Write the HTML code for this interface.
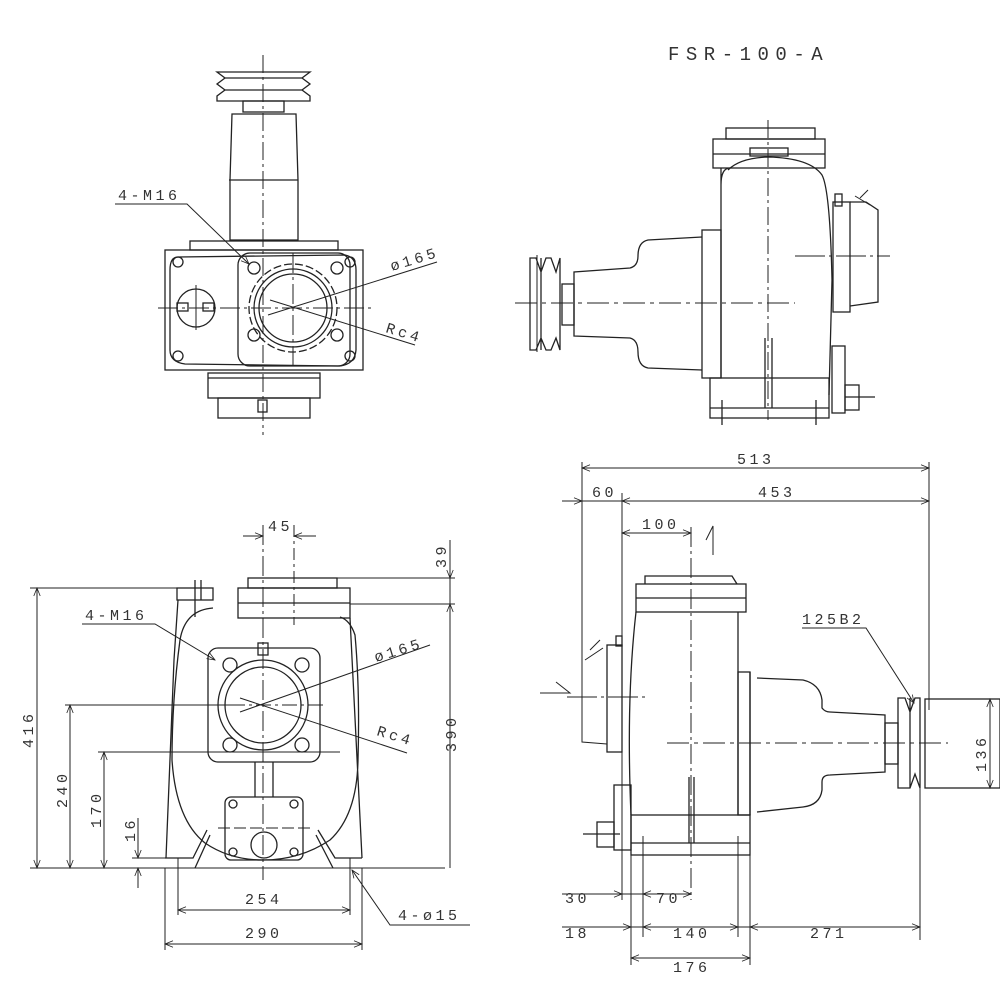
<!DOCTYPE html>
<html><head><meta charset="utf-8"><style>
html,body{margin:0;padding:0;background:#fff;}
svg{display:block}
text{font-family:"Liberation Mono","DejaVu Sans Mono",monospace;fill:#333;font-size:15px;letter-spacing:3.5px}
</style></head><body>
<svg width="1000" height="1000" viewBox="0 0 1000 1000" xmlns="http://www.w3.org/2000/svg">
<defs>
<marker id="a" viewBox="0 0 10 10" refX="10" refY="5" markerWidth="10" markerHeight="8" orient="auto-start-reverse" markerUnits="userSpaceOnUse"><path d="M0,1 L10,5 L0,9" fill="none" stroke="#222" stroke-width="1"/></marker>
</defs>
<g fill="none" stroke="#222" stroke-width="1.3">
<text x="668" y="60" style="font-size:19px;letter-spacing:6.5px" stroke="none">FSR-100-A</text>

<!-- ===== TOP LEFT VIEW ===== -->
<path d="M263,55 V435" stroke-dasharray="18,4,3,4" stroke-width="1"/>
<path d="M217,72 H310 L302,78 L310,84 L302,90 L310,96 V101 H217 V96 L225,90 L217,84 L225,78 L217,72 Z"/>
<path d="M225,78 H302 M225,90 H302"/>
<rect x="243" y="101" width="41" height="11"/>
<path d="M232,114 H296 L298,180 V240 H230 V180 Z M229,180 H298"/>
<rect x="190" y="241" width="148" height="9"/>
<rect x="165" y="250" width="198" height="120"/>
<path d="M178,257 Q170,257 170,270 V350 Q170,362 185,364 L340,366 Q355,364 356,350 V270 Q356,257 345,255 Z"/>
<rect x="238" y="253" width="112" height="113" rx="12"/>
<circle cx="293" cy="308" r="44" stroke-dasharray="8,3"/>
<circle cx="293" cy="308" r="39"/>
<circle cx="293" cy="308" r="34"/>
<circle cx="254" cy="268" r="6"/><circle cx="337" cy="268" r="6"/>
<circle cx="254" cy="335" r="6"/><circle cx="337" cy="335" r="6"/>
<circle cx="178" cy="262" r="5"/><circle cx="350" cy="262" r="5"/>
<circle cx="178" cy="356" r="5"/><circle cx="350" cy="356" r="5"/>
<circle cx="196" cy="308" r="19"/>
<rect x="177" y="303" width="11" height="8"/><rect x="203" y="303" width="11" height="8"/>
<path d="M196,285 V330" stroke-width="1"/>
<path d="M158,308 H375 M293,253 V370" stroke-width="1" stroke-dasharray="20,4,3,4"/>
<rect x="208" y="373" width="112" height="25"/>
<path d="M208,378 H320"/>
<rect x="218" y="398" width="92" height="20"/>
<rect x="258" y="400" width="9" height="12"/>
<text x="118" y="200" stroke="none">4-M16</text>
<path d="M115,204 H187 L249,264" marker-end="url(#a)" stroke-width="1"/>
<path d="M268,315 L437,262" stroke-width="1"/>
<path d="M270,300 L415,345" stroke-width="1"/>
<text x="0" y="0" stroke="none" transform="translate(392,271) rotate(-17)">ø165</text>
<text x="0" y="0" stroke="none" transform="translate(385,332) rotate(17)">Rc4</text>

<!-- ===== TOP RIGHT VIEW ===== -->
<path d="M515,303 H795" stroke-dasharray="22,5,4,5" stroke-width="1"/>
<path d="M768,120 V420" stroke-dasharray="18,4,3,4" stroke-width="1"/>
<rect x="726" y="128" width="89" height="11"/>
<rect x="713" y="139" width="112" height="29"/>
<path d="M713,154 H825"/>
<rect x="750" y="148" width="38" height="8"/>
<path d="M721,168 V378 M730,168 Q721,168 721,185"/>
<path d="M728,170 Q740,158 768,157 Q810,158 822,175 Q830,190 832,280 L829,395"/>
<rect x="702" y="230" width="19" height="148"/>
<path d="M702,237 L648,240 Q638,242 638,256 Q638,266 630,268 L574,272 V336 L630,338 Q638,340 638,352 Q638,366 648,368 L702,370"/>
<rect x="562" y="284" width="12" height="41"/>
<path d="M530,258 L536,258 L541,272 L546,258 L551,258 L556,272 L560,258 V350 L556,338 L551,350 L546,350 L541,338 L536,350 L530,350 Z M541,258 V350"/>
<path d="M537,255 V352" stroke-width="1"/>
<rect x="710" y="378" width="119" height="40"/>
<path d="M710,408 H829 M722,400 V425 M816,400 V425 M765,338 V408 M772,338 V408"/>
<rect x="833" y="202" width="17" height="110"/>
<rect x="835" y="194" width="7" height="12"/>
<path d="M850,202 L866,202 L878,210 V302 L850,306"/>
<path d="M795,256 H890" stroke-dasharray="30,4,3,4" stroke-width="1"/>
<path d="M860,198 L868,190 M855,196 L870,205" stroke-width="1"/>
<rect x="832" y="346" width="13" height="67"/>
<rect x="845" y="385" width="14" height="25"/><path d="M845,397 H875"/>

<!-- ===== BOTTOM LEFT VIEW ===== -->
<path d="M263,525 V880" stroke-dasharray="20,4,3,4" stroke-width="1"/>
<path d="M294,525 V625" stroke-dasharray="12,4,3,4" stroke-width="1"/>
<path d="M243,536 H263" marker-end="url(#a)" stroke-width="1"/>
<path d="M316,536 H294" marker-end="url(#a)" stroke-width="1"/>
<text x="268" y="531" stroke="none">45</text>
<rect x="248" y="578" width="89" height="10"/>
<rect x="238" y="588" width="112" height="30"/>
<path d="M238,603 H350"/>
<path d="M337,578 H455 M350,604 H455" stroke-width="1"/>
<path d="M450,540 V578" marker-end="url(#a)" stroke-width="1"/>
<path d="M450,868 V604" marker-end="url(#a)" stroke-width="1"/>
<path d="M450,578 V604" stroke-width="1"/>
<text x="0" y="0" stroke="none" transform="translate(446,568) rotate(-90)">39</text>
<text x="0" y="0" stroke="none" transform="translate(456,752) rotate(-90)">390</text>
<rect x="177" y="588" width="36" height="12"/>
<path d="M195,580 V617 M201,580 V600"/>
<path d="M178,600 L174,660 L166,858 M213,608 Q185,610 180,640 Q172,700 172,760 Q176,820 205,843 Q230,860 263,860 Q300,860 330,840 Q357,815 358,760 Q360,690 355,635 Q350,620 340,617 M350,618 L362,858"/>
<rect x="208" y="648" width="112" height="114" rx="10"/>
<circle cx="263" cy="705" r="45"/>
<circle cx="263" cy="705" r="38"/>
<circle cx="230" cy="665" r="7"/><circle cx="302" cy="665" r="7"/>
<circle cx="230" cy="745" r="7"/><circle cx="302" cy="745" r="7"/>
<rect x="258" y="643" width="10" height="12"/>
<path d="M230,705 H325" stroke-dasharray="15,4,3,4" stroke-width="1"/>
<path d="M255,762 V797 M273,762 V797"/>
<rect x="225" y="797" width="78" height="63" rx="6"/>
<circle cx="233" cy="804" r="4"/><circle cx="294" cy="804" r="4"/>
<circle cx="233" cy="852" r="4"/><circle cx="294" cy="852" r="4"/>
<circle cx="264" cy="845" r="13"/>
<path d="M218,828 H310" stroke-dasharray="12,4" stroke-width="1"/>
<path d="M165,858 H193 L207,830 M195,868 L210,835 M362,858 H335 L318,830 M333,868 L316,835"/>
<path d="M30,868 H445 M30,588 H178 M65,705 H240 M98,752 H340 M132,858 H193" stroke-width="1"/>
<path d="M37,705 V588" marker-end="url(#a)" stroke-width="1"/><path d="M37,705 V868" marker-end="url(#a)" stroke-width="1"/>
<path d="M70,790 V705" marker-end="url(#a)" stroke-width="1"/><path d="M70,790 V868" marker-end="url(#a)" stroke-width="1"/>
<path d="M104,810 V752" marker-end="url(#a)" stroke-width="1"/><path d="M104,810 V868" marker-end="url(#a)" stroke-width="1"/>
<path d="M138,818 V858" marker-end="url(#a)" stroke-width="1"/><path d="M138,888 V868" marker-end="url(#a)" stroke-width="1"/>
<text x="0" y="0" stroke="none" transform="translate(33,748) rotate(-90)">416</text>
<text x="0" y="0" stroke="none" transform="translate(67,808) rotate(-90)">240</text>
<text x="0" y="0" stroke="none" transform="translate(101,828) rotate(-90)">170</text>
<text x="0" y="0" stroke="none" transform="translate(135,842) rotate(-90)">16</text>
<path d="M178,858 V915 M350,858 V915 M165,868 V950 M362,868 V950" stroke-width="1"/>
<path d="M264,910 H178" marker-end="url(#a)" stroke-width="1"/><path d="M264,910 H350" marker-end="url(#a)" stroke-width="1"/>
<path d="M264,944 H165" marker-end="url(#a)" stroke-width="1"/><path d="M264,944 H362" marker-end="url(#a)" stroke-width="1"/>
<text x="245" y="904" stroke="none">254</text>
<text x="245" y="938" stroke="none">290</text>
<path d="M470,925 H390 L352,870" marker-end="url(#a)" stroke-width="1"/>
<text x="398" y="920" stroke="none">4-ø15</text>
<text x="85" y="620" stroke="none">4-M16</text>
<path d="M82,624 H155 L215,660" marker-end="url(#a)" stroke-width="1"/>
<path d="M240,712 L430,645" stroke-width="1"/>
<path d="M240,698 L407,753" stroke-width="1"/>
<text x="0" y="0" stroke="none" transform="translate(376,662) rotate(-17)">ø165</text>
<text x="0" y="0" stroke="none" transform="translate(376,735) rotate(17)">Rc4</text>

<!-- ===== BOTTOM RIGHT VIEW ===== -->
<path d="M582,462 V742 L607,744 M622,493 V900 M929,462 V710" stroke-width="1"/>
<path d="M755,468 H582" marker-end="url(#a)" stroke-width="1"/><path d="M755,468 H929" marker-end="url(#a)" stroke-width="1"/>
<text x="737" y="464" stroke="none">513</text>
<path d="M562,501 H582" marker-end="url(#a)" stroke-width="1"/>
<path d="M775,501 H622" marker-end="url(#a)" stroke-width="1"/><path d="M775,501 H929" marker-end="url(#a)" stroke-width="1"/>
<path d="M582,501 H622" stroke-width="1"/>
<text x="592" y="497" stroke="none">60</text>
<text x="758" y="497" stroke="none">453</text>
<path d="M656,533 H622" marker-end="url(#a)" stroke-width="1"/><path d="M656,533 H691" marker-end="url(#a)" stroke-width="1"/>
<text x="642" y="529" stroke="none">100</text>
<path d="M691,527 V900" stroke-dasharray="20,4,3,4" stroke-width="1"/>
<path d="M713,555 V526 L706,540" stroke-width="1"/>
<path d="M540,693 H570 L556,682" stroke-width="1"/>
<path d="M567,697 H647" stroke-dasharray="30,4,3,4" stroke-width="1"/>
<path d="M645,584 V576 H732 L737,584"/>
<rect x="636" y="584" width="110" height="28"/>
<path d="M636,598 H746"/>
<path d="M636,612 Q626,700 631,815 M738,612 V815"/>
<rect x="738" y="672" width="12" height="143"/>
<path d="M750,672 V815"/>
<path d="M757,678 L803,680 Q820,684 822,700 L822,708 Q825,712 830,712 L885,715 V772 L830,775 Q822,775 822,782 L822,790 Q820,805 803,807 L757,812"/>
<rect x="885" y="723" width="13" height="41"/>
<path d="M898,698 H905 L910,712 L915,698 L920,698 V788 L915,774 L910,788 L905,788 L898,788 Z M910,698 V788"/>
<rect x="925" y="699" width="75" height="89"/>
<path d="M990,699 V788" stroke-width="1"/>
<path d="M990,743 V699" marker-end="url(#a)" stroke-width="1"/><path d="M990,743 V788" marker-end="url(#a)" stroke-width="1"/>
<text x="0" y="0" stroke="none" transform="translate(986,772) rotate(-90)">136</text>
<path d="M667,743 H948" stroke-dasharray="22,5,4,5" stroke-width="1"/>
<text x="802" y="624" stroke="none">125B2</text>
<path d="M802,628 H866 L914,703" marker-end="url(#a)" stroke-width="1"/>
<rect x="607" y="645" width="15" height="107"/>
<rect x="616" y="636" width="6" height="10"/>
<path d="M590,650 L600,640 M585,660 L603,648" stroke-width="1"/>
<rect x="614" y="785" width="17" height="65"/>
<rect x="597" y="822" width="17" height="25"/><path d="M583,834 H620"/>
<rect x="631" y="815" width="119" height="40"/>
<path d="M631,843 H750"/>
<path d="M689,777 V843 M694,777 V843"/>
<path d="M631,855 V965 M643,836 V937 M738,836 V937 M750,855 V965 M920,780 V940" stroke-width="1"/>
<path d="M562,894 H622" marker-end="url(#a)" stroke-width="1"/>
<path d="M622,894 H643" stroke-width="1"/>
<path d="M667,894 H643" marker-end="url(#a)" stroke-width="1"/><path d="M667,894 H691" marker-end="url(#a)" stroke-width="1"/>
<text x="565" y="903" stroke="none">30</text>
<text x="656" y="903" stroke="none">70</text>
<path d="M562,927 H631" marker-end="url(#a)" stroke-width="1"/>
<path d="M631,927 H643" stroke-width="1"/>
<path d="M690,927 H643" marker-end="url(#a)" stroke-width="1"/><path d="M690,927 H738" marker-end="url(#a)" stroke-width="1"/>
<path d="M738,927 H750" stroke-width="1"/>
<path d="M835,927 H750" marker-end="url(#a)" stroke-width="1"/><path d="M835,927 H920" marker-end="url(#a)" stroke-width="1"/>
<text x="565" y="938" stroke="none">18</text>
<text x="673" y="938" stroke="none">140</text>
<text x="810" y="938" stroke="none">271</text>
<path d="M690,958 H631" marker-end="url(#a)" stroke-width="1"/><path d="M690,958 H750" marker-end="url(#a)" stroke-width="1"/>
<text x="673" y="972" stroke="none">176</text>
</g>
</svg>
</body></html>
